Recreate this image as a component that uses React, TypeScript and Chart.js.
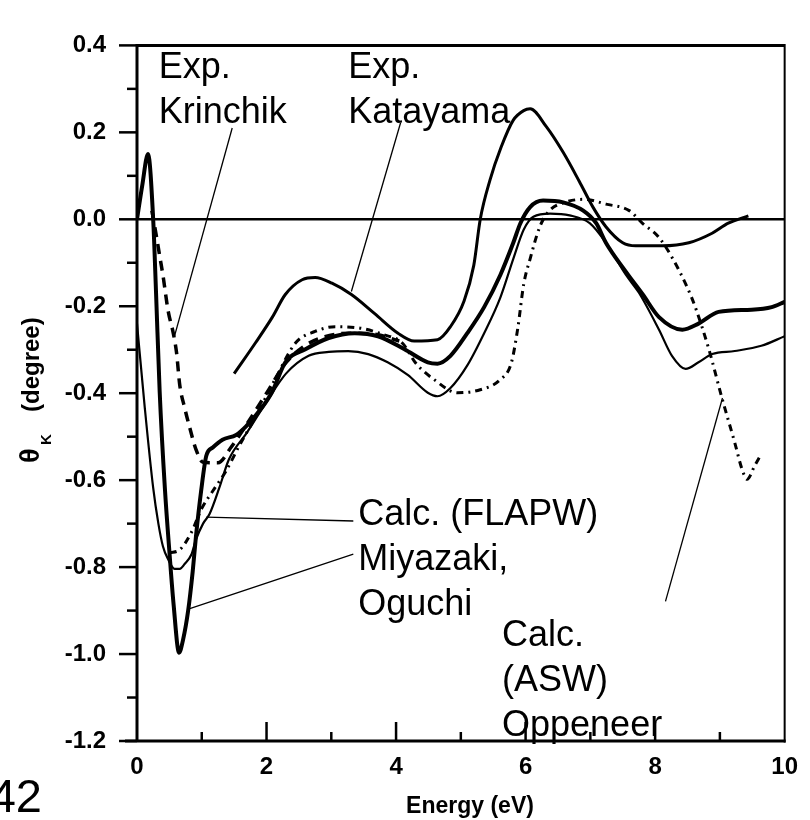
import React, { useEffect, useRef } from 'react';
import { Chart, registerables } from 'chart.js';

Chart.register(...registerables);

const FONT = '"Liberation Sans", Arial, Helvetica, sans-serif';

// ---- axis ticks ----
const X_MAJOR = [0, 2, 4, 6, 8, 10];
const Y_MAJOR = [0.4, 0.2, 0.0, -0.2, -0.4, -0.6, -0.8, -1.0, -1.2];

// ---- Calc. (FLAPW) Miyazaki, Oguchi : thick solid ----
const thickE = [0, 0.08, 0.17, 0.25, 0.295, 0.35, 0.43, 0.505, 0.565, 0.65, 0.71, 0.79, 0.86, 0.91, 0.99, 1.07, 1.17, 1.32, 1.53, 1.68, 1.93, 2.09, 2.29, 2.6, 2.96, 3.36, 3.72, 4.13, 4.49, 4.64, 4.84, 5.1, 5.36, 5.61, 5.81, 5.92, 6.07, 6.27, 6.58, 6.89, 7.09, 7.24, 7.55, 7.81, 8.06, 8.42, 8.67, 8.98, 9.49, 9.8, 10];
const thickK = [0, 0.077, 0.15, 0, -0.173, -0.396, -0.618, -0.774, -0.886, -0.997, -0.968, -0.9, -0.81, -0.73, -0.625, -0.544, -0.525, -0.507, -0.496, -0.477, -0.433, -0.396, -0.329, -0.299, -0.273, -0.262, -0.269, -0.299, -0.329, -0.332, -0.314, -0.262, -0.202, -0.128, -0.054, -0.009, 0.028, 0.043, 0.039, 0.02, -0.009, -0.054, -0.121, -0.173, -0.225, -0.254, -0.24, -0.213, -0.208, -0.202, -0.19];

// ---- Calc. (FLAPW) : thin solid ----
const thinE = [0, 0.12, 0.25, 0.33, 0.4, 0.48, 0.58, 0.66, 0.735, 0.84, 0.91, 1.02, 1.12, 1.27, 1.42, 1.7, 2.0, 2.3, 2.65, 2.96, 3.26, 3.57, 3.87, 4.18, 4.49, 4.64, 4.84, 5.1, 5.36, 5.61, 5.81, 5.97, 6.12, 6.38, 6.68, 6.99, 7.24, 7.55, 7.75, 8.06, 8.26, 8.47, 8.67, 8.88, 9.23, 9.64, 10];
const thinK = [-0.24, -0.433, -0.618, -0.7, -0.752, -0.782, -0.804, -0.804, -0.793, -0.771, -0.737, -0.7, -0.678, -0.618, -0.552, -0.49, -0.42, -0.355, -0.314, -0.305, -0.303, -0.31, -0.329, -0.358, -0.399, -0.407, -0.388, -0.336, -0.262, -0.18, -0.091, -0.024, 0.006, 0.013, 0.009, -0.009, -0.054, -0.128, -0.169, -0.254, -0.314, -0.344, -0.329, -0.31, -0.303, -0.291, -0.269];

// ---- Exp. Katayama ----
const katE = [1.5, 1.83, 2.09, 2.29, 2.55, 2.75, 3.01, 3.31, 3.67, 4.03, 4.28, 4.64, 4.84, 5.05, 5.2, 5.3, 5.45, 5.62, 5.81, 5.97, 6.07, 6.32, 6.58, 6.83, 7.04, 7.24, 7.5, 7.7, 8.11, 8.52, 8.88, 9.13, 9.44];
const katK = [-0.355, -0.284, -0.225, -0.173, -0.139, -0.134, -0.147, -0.173, -0.217, -0.262, -0.28, -0.277, -0.247, -0.188, -0.106, 0.0, 0.09, 0.165, 0.228, 0.25, 0.254, 0.213, 0.154, 0.087, 0.028, -0.017, -0.054, -0.061, -0.061, -0.054, -0.032, -0.009, 0.008];

// ---- Exp. Krinchik : dashed ----
const krinE = [0.23, 0.3, 0.35, 0.4, 0.48, 0.56, 0.61, 0.66, 0.735, 0.81, 0.91, 1.02, 1.25, 1.45, 1.7, 2.0, 2.3, 2.6, 2.9, 3.3, 3.7, 4.05];
const krinK = [0.02, -0.039, -0.084, -0.128, -0.21, -0.262, -0.306, -0.381, -0.433, -0.477, -0.529, -0.559, -0.56, -0.525, -0.47, -0.4, -0.33, -0.29, -0.27, -0.262, -0.265, -0.28];

// ---- Calc. (ASW) Oppeneer : dash-dot ----
const aswE = [0.505, 0.66, 0.84, 1.0, 1.17, 1.37, 1.6, 1.83, 2.14, 2.45, 2.75, 3.06, 3.47, 3.8, 4.1, 4.3, 4.6, 4.95, 5.3, 5.6, 5.78, 5.88, 5.97, 6.07, 6.22, 6.37, 6.63, 6.9, 7.24, 7.6, 7.81, 8.05, 8.27, 8.5, 8.62, 8.83, 9.03, 9.23, 9.34, 9.42, 9.54, 9.64];
const aswK = [-0.767, -0.76, -0.72, -0.665, -0.625, -0.58, -0.515, -0.455, -0.366, -0.284, -0.258, -0.247, -0.251, -0.265, -0.285, -0.33, -0.37, -0.399, -0.392, -0.37, -0.33, -0.25, -0.15, -0.091, -0.017, 0.02, 0.04, 0.046, 0.035, 0.02, -0.01, -0.04, -0.09, -0.158, -0.202, -0.299, -0.41, -0.514, -0.574, -0.598, -0.566, -0.54];

// ---- annotations (data coordinates) ----
const NOTE_TEXTS = [
  { lines: ['Exp.', 'Krinchik'], x: 0.337, y: 0.324 },
  { lines: ['Exp.', 'Katayama'], x: 3.262, y: 0.324 },
  { lines: ['Calc. (FLAPW)', 'Miyazaki,', 'Oguchi'], x: 3.415, y: -0.703 },
  { lines: ['Calc.', '(ASW)', 'Oppeneer'], x: 5.636, y: -0.982 },
];
const LEADERS = [
  [1.47, 0.21, 0.58, -0.268],
  [4.07, 0.222, 3.31, -0.166],
  [1.07, -0.685, 3.34, -0.694],
  [0.78, -0.897, 3.34, -0.77],
  [9.04, -0.411, 8.16, -0.879],
];

const pts = (xs: number[], ys: number[]) => xs.map((x, i) => ({ x, y: ys[i] }));

const decor = {
  id: 'decor',
  beforeDatasetsDraw(chart: any) {
    const ctx = chart.ctx;
    const xs = chart.scales.x;
    const ys = chart.scales.y;
    const { left, right, top, bottom } = chart.chartArea;
    ctx.save();
    ctx.strokeStyle = '#000';
    ctx.lineCap = 'butt';
    ctx.lineWidth = 3;
    ctx.beginPath();
    ctx.moveTo(left, bottom + 1.5);
    ctx.lineTo(left, top - 1.5);
    ctx.moveTo(left, top);
    ctx.lineTo(right, top);
    ctx.moveTo(left - 12, bottom);
    ctx.lineTo(right + 1, bottom);
    ctx.stroke();
    ctx.lineWidth = 2;
    ctx.beginPath();
    ctx.moveTo(right, top - 1.5);
    ctx.lineTo(right, bottom + 1.5);
    ctx.stroke();
    const y0 = ys.getPixelForValue(0);
    ctx.lineWidth = 2.5;
    ctx.beginPath();
    ctx.moveTo(left, y0);
    ctx.lineTo(right, y0);
    ctx.stroke();
    ctx.lineWidth = 2.5;
    ys.ticks.forEach((t: any) => {
      const py = ys.getPixelForValue(t.value);
      const major = Math.abs(Math.round(t.value * 10)) % 2 === 0;
      const len = major ? 18 : 10;
      ctx.beginPath();
      ctx.moveTo(left - len, py);
      ctx.lineTo(left, py);
      ctx.stroke();
    });
    xs.ticks.forEach((t: any) => {
      if (t.value <= 0 || t.value >= 10) return;
      const px = xs.getPixelForValue(t.value);
      const major = Math.round(t.value) % 2 === 0;
      const len = major ? 19 : 9;
      ctx.beginPath();
      ctx.moveTo(px, bottom);
      ctx.lineTo(px, bottom - len);
      ctx.stroke();
    });
    ctx.restore();
  },
  afterDraw(chart: any) {
    const ctx = chart.ctx;
    const xs = chart.scales.x;
    const ys = chart.scales.y;
    ctx.save();
    ctx.fillStyle = '#000';
    ctx.strokeStyle = '#000';
    ctx.lineWidth = 1.3;
    LEADERS.forEach(([x1, y1, x2, y2]) => {
      ctx.beginPath();
      ctx.moveTo(xs.getPixelForValue(x1), ys.getPixelForValue(y1));
      ctx.lineTo(xs.getPixelForValue(x2), ys.getPixelForValue(y2));
      ctx.stroke();
    });
    ctx.font = `36px ${FONT}`;
    ctx.textAlign = 'left';
    ctx.textBaseline = 'alphabetic';
    NOTE_TEXTS.forEach((n) => {
      const px = xs.getPixelForValue(n.x);
      const py = ys.getPixelForValue(n.y);
      n.lines.forEach((s, i) => ctx.fillText(s, px, py + i * 45));
    });
    ctx.save();
    ctx.translate(39, 463);
    ctx.rotate(-Math.PI / 2);
    ctx.textAlign = 'left';
    ctx.font = `bold 27px ${FONT}`;
    ctx.fillText('θ', 0, 0);
    ctx.font = `bold 15px ${FONT}`;
    ctx.fillText('K', 18, 12);
    ctx.font = `bold 24px ${FONT}`;
    ctx.fillText('(degree)', 51, 0);
    ctx.restore();
    ctx.font = `bold 23px ${FONT}`;
    ctx.textAlign = 'center';
    ctx.fillText('Energy (eV)', 470, 813);
    ctx.font = `47px ${FONT}`;
    ctx.textAlign = 'right';
    ctx.fillText('42', 42, 812);
    ctx.restore();
  },
};

export default function App() {
  const ref = useRef<HTMLCanvasElement | null>(null);
  useEffect(() => {
    if (!ref.current) return;
    const line = (data: any, width: number, dash: number[] = []) => ({
      data,
      borderColor: '#000',
      backgroundColor: '#000',
      borderWidth: width,
      borderDash: dash,
      pointRadius: 0,
      fill: false,
      cubicInterpolationMode: 'monotone',
    });
    const chart = new Chart(ref.current, {
      type: 'line',
      data: {
        datasets: [
          line(pts(thinE, thinK), 2.2),
          line(pts(katE, katK), 3),
          line(pts(aswE, aswK), 3, [7, 5, 2, 5]),
          line(pts(krinE, krinK), 3.5, [10, 7]),
          line(pts(thickE, thickK), 4),
        ] as any,
      },
      options: {
        animation: false,
        responsive: false,
        devicePixelRatio: 1,
        layout: { padding: { left: 0, top: 23, right: 20, bottom: 0 } },
        plugins: { legend: { display: false }, tooltip: { enabled: false } },
        scales: {
          x: {
            type: 'linear',
            min: 0,
            max: 10,
            grid: { display: false, drawTicks: false },
            border: { display: false },
            ticks: {
              stepSize: 1,
              autoSkip: false,
              maxRotation: 0,
              padding: 12,
              color: '#000',
              font: { family: FONT, size: 24, weight: 'bold' },
              callback: (v: any) => (X_MAJOR.includes(Math.round(Number(v))) && Math.abs(Number(v) - Math.round(Number(v))) < 1e-6 ? String(Math.round(Number(v))) : ''),
            },
            afterFit: (s: any) => { s.height = 79; },
          },
          y: {
            type: 'linear',
            min: -1.2,
            max: 0.4,
            grid: { display: false, drawTicks: false },
            border: { display: false },
            ticks: {
              stepSize: 0.1,
              autoSkip: false,
              padding: 31,
              color: '#000',
              font: { family: FONT, size: 24, weight: 'bold' },
              callback: (v: any) => {
                const r = Math.round(Number(v) * 10) / 10;
                const hit = Y_MAJOR.find((m) => Math.abs(m - r) < 1e-6);
                return hit === undefined ? '' : hit.toFixed(1);
              },
            },
            afterFit: (s: any) => { s.width = 137; },
          },
        },
      } as any,
      plugins: [decor],
    });
    return () => chart.destroy();
  }, []);
  return (
    <div style={{ position: 'fixed', left: 0, top: 0, width: 810, height: 820, background: '#fff' }}>
      <canvas ref={ref} width={810} height={820} />
    </div>
  );
}
